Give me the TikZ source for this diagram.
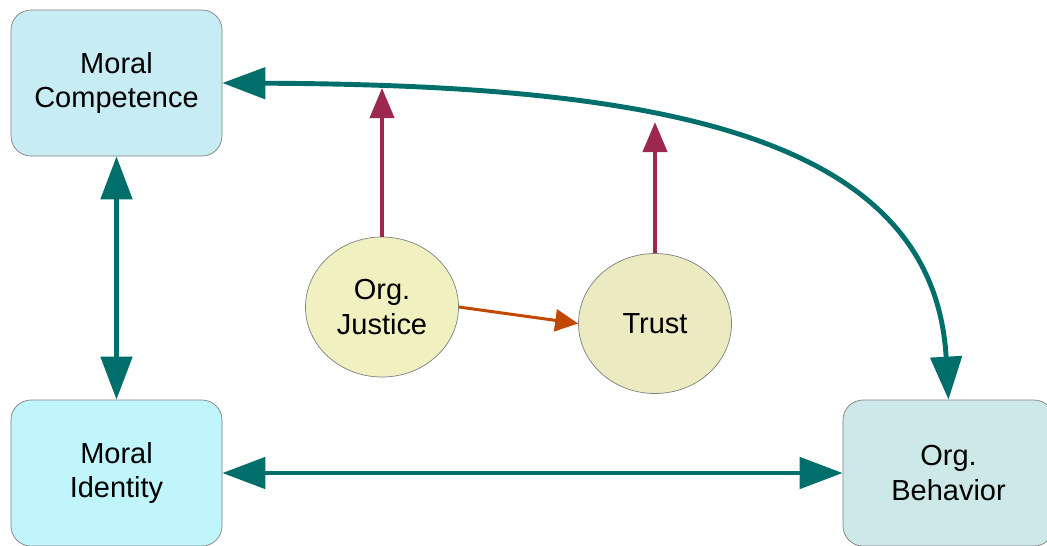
\documentclass[tikz,border=0pt]{standalone}
\usepackage{fontspec}
\setmainfont{Liberation Sans}
\usetikzlibrary{arrows.meta,shapes.geometric}

\definecolor{linkteal}{RGB}{0,110,106}
\definecolor{linkred}{RGB}{156,40,80}
\definecolor{linkorange}{RGB}{192,72,0}
\definecolor{edgegray}{RGB}{128,128,128}
\definecolor{mcfill}{RGB}{200,236,244}
\definecolor{mifill}{RGB}{192,245,252}
\definecolor{obfill}{RGB}{204,232,232}
\definecolor{ojfill}{RGB}{240,240,192}
\definecolor{trfill}{RGB}{236,234,192}

\begin{document}
\begin{tikzpicture}[>={Triangle[length=0.86cm,width=0.62cm]},
  font=\fontsize{16.5}{19.8}\selectfont,
  box node/.style={draw=edgegray,rounded corners=0.4cm,minimum width=4.22cm,
    minimum height=2.92cm,align=center},
  oval node/.style={ellipse,draw=edgegray,minimum width=3.06cm,
    minimum height=2.8cm,align=center,inner sep=0pt},
  main link/.style={<->,draw=linkteal,line width=2.8pt},
  side link/.style={-{Triangle[length=0.6cm,width=0.48cm]},draw=linkred,line width=2.3pt},
  cause link/.style={-{Triangle[length=0.46cm,width=0.44cm]},draw=linkorange,line width=1.7pt}]

  \clip (0,0) rectangle (20.94,-10.9);

  \node[box node,fill=mcfill] (mc) at (2.33,-1.66) {Moral\\Competence};
  \node[box node,fill=mifill] (mi) at (2.33,-9.46) {Moral\\Identity};
  \node[box node,fill=obfill] (ob) at (18.97,-9.46) {Org.\\Behavior};
  \node[oval node,fill=ojfill] (just) at (7.64,-6.14) {Org.\\Justice};
  \node[oval node,fill=trfill] (trust) at (13.1,-6.47) {Trust};

  % points where the red arrows meet the curve
  \coordinate (jtip) at (7.64,-1.76);
  \coordinate (ttip) at (13.1,-2.44);

  \draw[main link] (mc.east) .. controls +(8.54,-0.04) and +(-0.3,5.38) .. (ob.north);

  \path
    (mc.south) edge[main link] (mi.north)
    (mi.east) edge[main link] (ob.west)
    (just.north) edge[side link] (jtip)
    (trust.north) edge[side link] (ttip)
    (just.east) edge[cause link] (trust.west);

\end{tikzpicture}
\end{document}
